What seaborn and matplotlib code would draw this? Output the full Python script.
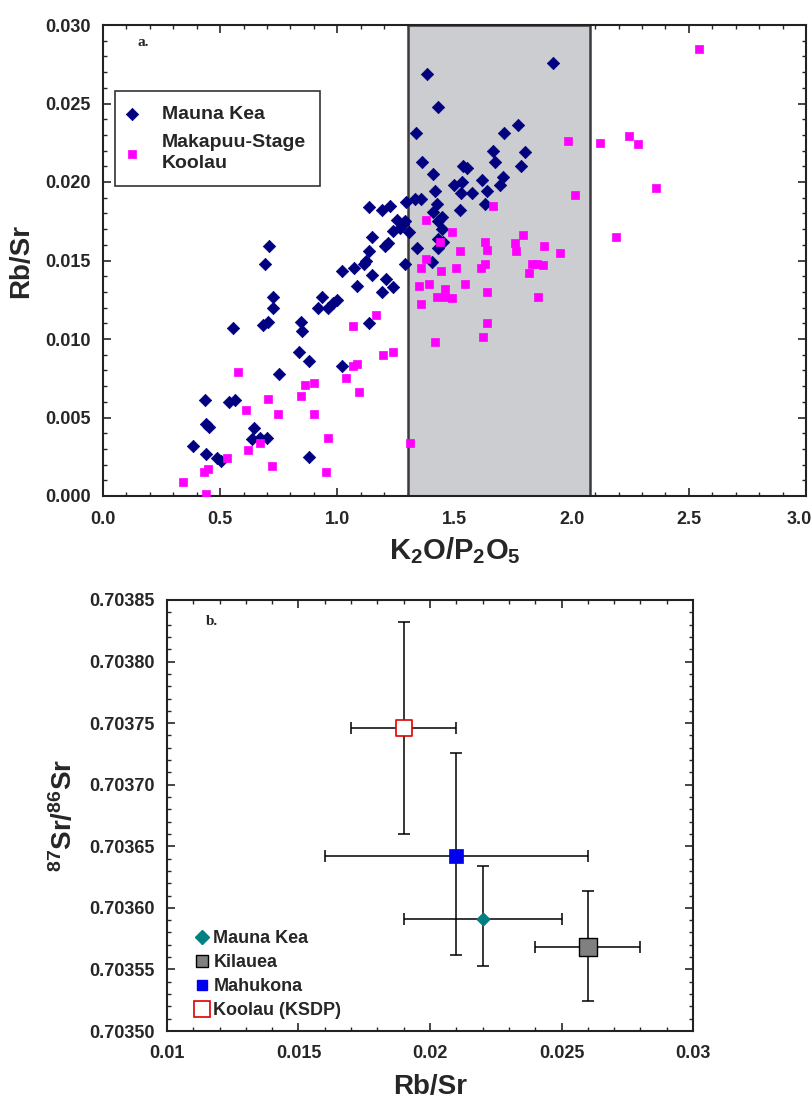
import matplotlib
matplotlib.use("Agg")
import numpy as np
import pandas as pd
import matplotlib.pyplot as plt
import matplotlib.transforms as mtransforms
import seaborn as sns
from matplotlib.patches import Rectangle
from matplotlib.ticker import MultipleLocator, FormatStrFormatter, FuncFormatter
from matplotlib.lines import Line2D

# ---------------- Panel a data ----------------
mk_x = [1.920, 1.383, 1.430, 1.336, 1.771, 1.711, 1.664, 1.801, 1.673, 1.362,
        1.536, 1.553, 1.784, 1.408, 1.707, 1.618, 1.694, 1.498, 1.532, 1.575,
        1.528, 1.639, 1.417, 1.332, 1.357, 1.630, 1.293, 1.225, 1.426, 1.408,
        1.524, 1.191, 1.447, 1.430, 1.135, 1.255, 1.280, 1.238, 1.268, 1.306,
        1.447, 1.430, 1.451, 1.340, 1.430, 1.148, 1.216, 1.204, 1.135, 1.122,
        1.114, 1.289, 1.404, 0.708, 0.691, 1.020, 1.071, 1.148, 1.208, 1.238,
        1.084, 1.191, 0.726, 0.726, 0.935, 0.918, 0.960, 0.982, 0.999, 0.683,
        0.704, 0.555, 0.845, 0.849, 1.135, 0.837, 0.879, 0.751, 1.020, 0.435,
        0.538, 0.563, 0.440, 0.452, 0.384, 0.440, 0.487, 0.504, 0.645, 0.636,
        0.670, 0.700, 0.879, 1.289]
mk_y = [0.0276, 0.0269, 0.0248, 0.0231, 0.0236, 0.0231, 0.0220, 0.0219, 0.0213, 0.0213,
        0.0210, 0.0209, 0.0210, 0.0205, 0.0203, 0.0201, 0.0198, 0.0198, 0.0200, 0.0193,
        0.0193, 0.0194, 0.0194, 0.0189, 0.0189, 0.0186, 0.0187, 0.0185, 0.0186, 0.0181,
        0.0182, 0.0182, 0.0178, 0.0175, 0.0184, 0.0176, 0.0173, 0.0169, 0.0171, 0.0168,
        0.0170, 0.0164, 0.0162, 0.0158, 0.0158, 0.0165, 0.0161, 0.0159, 0.0156, 0.0150,
        0.0148, 0.0148, 0.0149, 0.0159, 0.0148, 0.0143, 0.0145, 0.0141, 0.0138, 0.0133,
        0.0134, 0.0130, 0.0127, 0.0120, 0.0127, 0.0120, 0.0120, 0.0123, 0.0125, 0.0109,
        0.0111, 0.0107, 0.0111, 0.0105, 0.0110, 0.0092, 0.0086, 0.0078, 0.0083, 0.0061,
        0.0060, 0.0061, 0.0046, 0.0044, 0.0032, 0.0027, 0.0024, 0.0022, 0.0043, 0.0036,
        0.0037, 0.0037, 0.0025, 0.0175]

ko_x = [2.544, 1.985, 2.121, 2.245, 2.283, 2.015, 2.360, 2.190, 1.882, 1.950,
        1.878, 1.664, 1.379, 1.490, 1.438, 1.793, 1.630, 1.639, 1.758, 1.763,
        1.524, 1.379, 1.630, 1.831, 1.852, 1.357, 1.443, 1.507, 1.613, 1.818,
        1.349, 1.391, 1.460, 1.426, 1.460, 1.490, 1.545, 1.639, 1.857, 1.357,
        1.639, 1.622, 1.417, 1.238, 1.195, 1.310, 1.165, 1.067, 0.576, 0.704,
        0.747, 0.610, 0.619, 0.670, 0.529, 0.431, 0.448, 0.341, 0.440, 0.721,
        0.845, 0.862, 0.900, 1.037, 1.067, 1.084, 1.093, 0.900, 0.960, 0.952]
ko_y = [0.0285, 0.0226, 0.0225, 0.0229, 0.0224, 0.0192, 0.0196, 0.0165, 0.0159, 0.0155,
        0.0147, 0.0185, 0.0176, 0.0168, 0.0162, 0.0166, 0.0162, 0.0157, 0.0161, 0.0156,
        0.0156, 0.0151, 0.0148, 0.0148, 0.0148, 0.0145, 0.0143, 0.0145, 0.0145, 0.0142,
        0.0134, 0.0135, 0.0132, 0.0127, 0.0127, 0.0126, 0.0135, 0.0130, 0.0127, 0.0122,
        0.0110, 0.0101, 0.0098, 0.0092, 0.0090, 0.0034, 0.0115, 0.0108, 0.0079, 0.0062,
        0.0052, 0.0055, 0.0029, 0.0034, 0.0024, 0.0015, 0.0017, 0.0009, 0.0001, 0.0019,
        0.0064, 0.0071, 0.0072, 0.0075, 0.0083, 0.0084, 0.0066, 0.0052, 0.0037, 0.0015]

shade_range = [1.30, 2.08]

# ---------------- Panel b data ----------------
b_names = ["Mauna Kea", "Kilauea", "Mahukona", "Koolau (KSDP)"]
b_x = [0.022, 0.026, 0.021, 0.019]
b_y = [0.703591, 0.703568, 0.703642, 0.703746]
b_xlo = [0.019, 0.024, 0.016, 0.017]
b_xhi = [0.025, 0.028, 0.026, 0.021]
b_ylo = [0.703553, 0.703524, 0.703562, 0.703660]
b_yhi = [0.703634, 0.703614, 0.703726, 0.703832]

sns.set_style("ticks")
plt.rcParams['font.family'] = ['Liberation Sans', 'DejaVu Sans']
plt.rcParams['mathtext.fontset'] = 'custom'
plt.rcParams['mathtext.rm'] = 'Liberation Sans'
plt.rcParams['mathtext.bf'] = 'Liberation Sans:bold'

fig = plt.figure(figsize=(8.12, 11.01), dpi=100)
W, H = 812, 1101


def ax_at(l, t, r, b):
    return fig.add_axes([l / W, 1 - b / H, (r - l) / W, (b - t) / H])


# ---------- Panel a ----------
ax1 = ax_at(103, 25, 806, 496)
df_mk = pd.DataFrame({"x": mk_x, "y": mk_y})
df_ko = pd.DataFrame({"x": ko_x, "y": ko_y})
ax1.add_patch(Rectangle((shade_range[0], 0), shade_range[1] - shade_range[0], 0.030,
                        facecolor="#cccdd0", edgecolor="#3a3a3a", linewidth=1.8, zorder=1))
sns.scatterplot(data=df_mk, x="x", y="y", ax=ax1, marker="D", s=40, color="#000080",
                edgecolor="#000080", linewidth=0.5, zorder=3, label="Mauna Kea")
sns.scatterplot(data=df_ko, x="x", y="y", ax=ax1, marker="s", s=40, color="#ff00ff",
                edgecolor="#ff00ff", linewidth=0.5, zorder=3, label="Makapuu-Stage\nKoolau")
XMAX_A = 3.0
ax1.set_xlim(0, XMAX_A)
ax1.set_ylim(0, 0.030)
ax1.xaxis.set_major_locator(MultipleLocator(0.5))
ax1.xaxis.set_minor_locator(MultipleLocator(0.1))
ax1.yaxis.set_major_locator(MultipleLocator(0.005))
ax1.yaxis.set_minor_locator(MultipleLocator(0.001))
# last label (at the right edge) is drawn separately, nudged inside the figure
ax1.xaxis.set_major_formatter(FuncFormatter(lambda v, p: "" if abs(v - XMAX_A) < 1e-9 else "%.1f" % v))
ax1.yaxis.set_major_formatter(FormatStrFormatter("%.3f"))
ax1.text(XMAX_A, 0, "%.1f" % XMAX_A, fontsize=13, fontweight="bold", ha="center", va="top",
         transform=ax1.get_xaxis_transform() + mtransforms.ScaledTranslation(-7 / 100, -11 / 72, fig.dpi_scale_trans),
         clip_on=False)
ax1.set_xlabel(r"$\mathbf{K_2O/P_2O_5}$", fontsize=21, labelpad=5)
ax1.set_ylabel("Rb/Sr", fontsize=20, fontweight="bold", labelpad=8)
ax1.text(0.057, 0.962, "a.", transform=ax1.transAxes, family="Liberation Serif",
         fontsize=11, fontweight="bold", va="center", ha="center")
leg1 = ax1.legend(loc="upper left", bbox_to_anchor=(0.0171, 0.860), borderaxespad=0,
                  frameon=True, fancybox=False, edgecolor="black", fontsize=14,
                  handletextpad=1.45, borderpad=0.75, labelspacing=0.55, handlelength=0.2)
leg1.get_frame().set_linewidth(1.2)
for t in leg1.get_texts():
    t.set_fontweight("bold")
    t.set_linespacing(1.3)

# ---------- Panel b ----------
ax2 = ax_at(167, 600, 693, 1031)
df_b = pd.DataFrame({"name": b_names, "x": b_x, "y": b_y})
for i in range(len(b_names)):
    ax2.errorbar(b_x[i], b_y[i],
                 xerr=[[b_x[i] - b_xlo[i]], [b_xhi[i] - b_x[i]]],
                 yerr=[[b_y[i] - b_ylo[i]], [b_yhi[i] - b_y[i]]],
                 fmt="none", ecolor="black", elinewidth=1.1, capsize=4, capthick=1.1, zorder=2)
styles = {
    "Mauna Kea": dict(marker="D", s=47, color="#008080", edgecolor="#008080", linewidth=0.5),
    "Kilauea": dict(marker="s", s=150, color="#808080", edgecolor="black", linewidth=1.0),
    "Mahukona": dict(marker="s", s=110, color="#0000ee", edgecolor="#0000ee", linewidth=0.5),
    "Koolau (KSDP)": dict(marker="s", s=140, color="white", edgecolor="#e00000", linewidth=1.2),
}
for nm in b_names:
    sub = df_b[df_b["name"] == nm]
    sns.scatterplot(data=sub, x="x", y="y", ax=ax2, zorder=3, legend=False, **styles[nm])
ax2.set_xlim(0.01, 0.03)
ax2.set_ylim(0.7035, 0.70385)
ax2.xaxis.set_major_locator(MultipleLocator(0.005))
ax2.xaxis.set_minor_locator(MultipleLocator(0.001))
ax2.yaxis.set_major_locator(MultipleLocator(0.00005))
ax2.yaxis.set_minor_locator(MultipleLocator(0.00001))
ax2.xaxis.set_major_formatter(FuncFormatter(lambda v, p: ("%.3f" % v).rstrip("0")))
ax2.yaxis.set_major_formatter(FormatStrFormatter("%.5f"))
ax2.set_xlabel("Rb/Sr", fontsize=20, fontweight="bold", labelpad=9)
ax2.set_ylabel(r"$\mathbf{^{87}Sr/^{86}Sr}$", fontsize=20, labelpad=8)
ax2.text(0.086, 0.949, "b.", transform=ax2.transAxes, family="Liberation Serif",
         fontsize=11, fontweight="bold", va="center", ha="center")
handles = [
    Line2D([], [], ls="none", marker="D", markersize=6.8, color="#008080"),
    Line2D([], [], ls="none", marker="s", markersize=9, markerfacecolor="#808080",
           markeredgecolor="black", markeredgewidth=1.0),
    Line2D([], [], ls="none", marker="s", markersize=6.5, color="#0000ee"),
    Line2D([], [], ls="none", marker="s", markersize=11, markerfacecolor="white",
           markeredgecolor="#e00000", markeredgewidth=1.2),
]
leg2 = ax2.legend(handles, b_names, loc="lower left", bbox_to_anchor=(0.052, 0.028),
                  frameon=False, fontsize=13, handletextpad=0.2, labelspacing=0.38,
                  handlelength=0.85, borderaxespad=0, borderpad=0)
for t in leg2.get_texts():
    t.set_fontweight("bold")

for ax in (ax1, ax2):
    ax.tick_params(which="both", direction="in", top=True, right=True)
    ax.tick_params(which="major", length=6, width=1.2, pad=9, labelsize=13)
    ax.tick_params(which="minor", length=3, width=1.0)
    for lab in ax.get_xticklabels() + ax.get_yticklabels():
        lab.set_fontweight("bold")
    for sp in ax.spines.values():
        sp.set_linewidth(1.5)
        sp.set_color("#222222")
    ax.set_facecolor("white")
ax1.tick_params(axis="x", which="major", pad=11)
ax2.tick_params(axis="x", which="major", pad=10)

fig.savefig("out.png", dpi=100, facecolor="white")
